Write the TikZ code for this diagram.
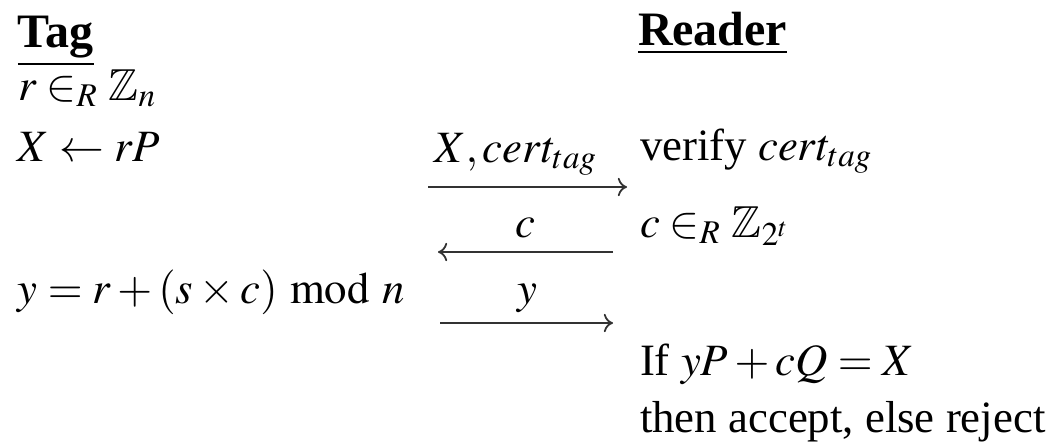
\documentclass[tikz,border=0pt]{standalone}
\IfFileExists{amssymb.sty}{\usepackage{amssymb}}{}
\IfFileExists{mathptmx.sty}{\usepackage{mathptmx}}{}
\usepackage[no-math]{fontspec}
\setmainfont{Liberation Serif}
\usetikzlibrary{arrows.meta}
\begin{document}
\begin{tikzpicture}[x=1pt,y=1pt,
  txt/.style={inner sep=0pt, outer sep=0pt, anchor=base west, font=\fontsize{11.2}{13}\selectfont},
  head/.style={inner sep=0pt, outer sep=0pt, anchor=base west, font=\fontsize{12}{14}\selectfont\bfseries},
  lbl/.style={inner sep=0pt, outer sep=0pt, anchor=base, font=\fontsize{11.2}{13}\selectfont},
  msg/.style={draw=black!80, line width=0.45pt, -{To[length=2.3pt,width=4.6pt]}}]
\useasboundingbox (0,0) rectangle (265,-110.25);
% Tag column
\node[head] (tag) at (4.5,-11.75) {\underline{Tag}};
\node[txt] (t1) at (4.6,-25) {$r \in_R \mathbb{Z}_n$};
\node[txt] (t2) at (4.5,-40.25) {$X \leftarrow rP$};
\node[txt] (t3) at (4.5,-75.75) {$y = r + (s \times c) \bmod n$};
% Reader column
\node[head] (reader) at (159.5,-11.25) {\underline{Reader}};
\node[txt] (r1) at (160,-40) {verify $cert_{tag}$};
\node[txt] (r2) at (160,-59.25) {$c \in_R \mathbb{Z}_{2^t}$};
\node[txt] (r3) at (160,-93.75) {If $yP + cQ = X$};
\node[txt] (r4) at (160,-108) {then accept, else reject};
% messages
\coordinate (a1s) at (107,-46.75);
\coordinate (a1e) at (156.75,-46.75);
\coordinate (a2s) at (153.25,-63);
\coordinate (a2e) at (109.5,-63);
\coordinate (a3s) at (110,-80.75);
\coordinate (a3e) at (153.25,-80.75);
\draw[msg] (a1s) -- (a1e);
\draw[msg] (a2s) -- (a2e);
\draw[msg] (a3s) -- (a3e);
\node[lbl] (m1) at (129,-40.5) {$X, cert_{tag}$};
\node[lbl] (m2) at (131.25,-59.25) {$c$};
\node[lbl] (m3) at (131.75,-75.75) {$y$};
\end{tikzpicture}
\end{document}
